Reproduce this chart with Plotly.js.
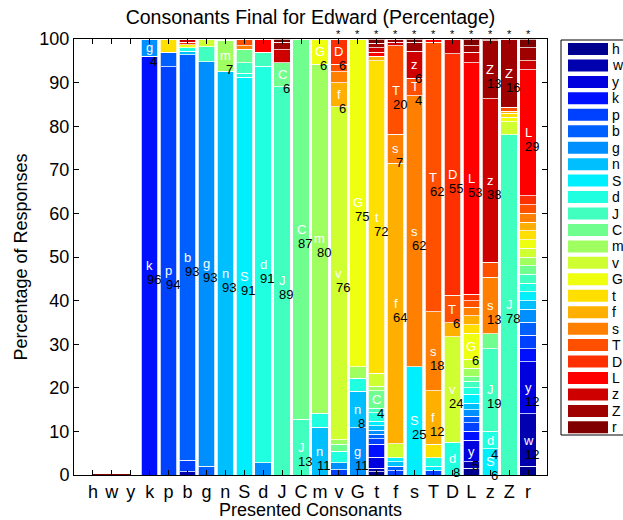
<!DOCTYPE html>
<html><head><meta charset="utf-8">
<script src="https://cdn.plot.ly/plotly-3.0.1.min.js"></script>
<style>html,body{margin:0;padding:0;background:#fff}</style>
</head><body><div id="chart" style="width:623px;height:520px"></div>
<script>
// Presented consonants (bars) and response categories (stack segments)
const presented = ['h','w','y','k','p','b','g','n','S','d','J','C','m','v','G','t','f','s','T','D','L','z','Z','r'];
const responses = ['h','w','y','k','p','b','g','n','S','d','J','C','m','v','G','t','f','s','T','D','L','z','Z','r'];
const respColors = ['#00008f','#0000af','#0000df','#0010ff','#0040ff','#0060ff','#008fff','#00bfff','#00efff',
  '#20ffdf','#40ffbf','#70ff8f','#9fff60','#cfff30','#efff10','#ffdf00','#ffaf00','#ff8000','#ff5000',
  '#ff3000','#ff0000','#cf0000','#9f0000','#800000'];
// Percent of responses for each presented consonant, in the order of `responses`
//              h   w   y   k   p    b    g    n    S    d    J    C    m    v    G    t    f    s    T    D    L   z    Z    r
const pct_h = [0,0,0,0,0,0,0,0,0,0,0,0,0,0,0,0,0,0,0,0,0,0,0,0];
const pct_w = [0,0,0,0,0,0,0,0,0,0,0,0,0,0,0,0,0,0,0,0,0,0,0,0];
const pct_y = [0,0,0,0,0,0,0,0,0,0,0,0,0,0,0,0,0,0,0,0,0,0,0,0];
const pct_k = [0,0,0,96,0,0,4,0,0,0,0,0,0,0,0,0,0,0,0,0,0,0,0,0];
const pct_p = [0,0,0,0,93.6,3.4,0,0,0,0,0,0,0,0,0,3,0,0,0,0,0,0,0,0];
const pct_b = [0,0.8,0,0,2.6,93,0,0.8,0,0.8,0,0,0,0,0.7,0,0,0,0,0.6,0,0.7,0,0];
const pct_g = [0,0,0,0,0,2,92.8,0,0,0,3.4,0,0,1.8,0,0,0,0,0,0,0,0,0,0];
const pct_n = [0,0,0,0,0,0,0,92.6,0,0,0,0,7.1,0,0,0,0,0,0,0,0,0.3,0,0];
const pct_S = [0,0,0,0,0,0,0,0,91.2,1,2.3,3.2,0,0,0,0,0,0.8,1.5,0,0,0,0,0];
const pct_d = [0,0,0,0,0,0,2.8,0,0,91,3.2,0,0,0,0,0,0,0,0,0,3,0,0,0];
const pct_J = [0,0,0,0,0,0,0,0,0,0,89,5.6,0,0,0,0,0,0,0,0,0,2.9,1.8,0.7];
const pct_C = [0,0,0,0,0,0,0,0,0,0,12.8,87.2,0,0,0,0,0,0,0,0,0,0,0,0];
const pct_m = [0,0,0,0,0,0,0,11,0,3.2,0,0,80,0,5.8,0,0,0,0,0,0,0,0,0];
const pct_v = [0,0,0,0,1.2,0,1.6,0,0,2.7,0,1.5,1.1,76.4,0,0,5.5,2.5,1.7,5.8,0,0,0,0];
const pct_G = [0,0,0,0,0,0,10.8,8.4,0,3,0,0,2.6,0,75.2,0,0,0,0,0,0,0,0,0];
const pct_t = [0.8,0.8,2.5,3,1.2,1,1,1,1,2,1,4,1,3,0,71.7,1,0,0,0,1,1,1,1];
const pct_f = [0,0,0,0,1,1,0,1,1,0,0,0,0,3.2,0,0,64.3,6.6,20.3,0,0,0.8,0.8,0];
const pct_s = [0,0,0,0,0,0,0,0,24.8,0,0,0,0,0,0,0,0,62.2,4,0,0,6.2,2,0.8];
const pct_T = [0,0,0,0,1,0,0,0,1,2,0,0,0,0,0,3,12.3,18.1,61.8,0,0.8,0,0,0];
const pct_D = [0,0,0,0,0,0,0,0,0,7.5,0,0,0,24.2,0,0,3.2,0,6.3,55.4,0,3.4,0,0];
const pct_L = [1.5,1.5,5,2,2,1.5,1.5,1.5,2,1.5,1.5,1,2,2,6,2,2,2,1.5,1.5,53,2.5,1.5,1.5];
const pct_z = [0,0,0,0,0,0,0,0,6,4,19,3.4,0,0,0,0,0,13,3.4,0,0,37.5,13.3,0.4];
const pct_Z = [0,0,0,0,0,0,0,0,0,0,78,0,0,3,1,1,0.4,0,1,0,0,0,15.6,0];
const pct_r = [2,12,12,3,3,3,3,2,2,2,2,2,2,2,2,2,2,2,2,2,29,2,3,2];
// Bars marked with an asterisk above
const starred = ['v','G','t','f','s','T','D','L','z','Z','r'];

const table = {h:pct_h,w:pct_w,y:pct_y,k:pct_k,p:pct_p,b:pct_b,g:pct_g,n:pct_n,S:pct_S,d:pct_d,J:pct_J,C:pct_C,
  m:pct_m,v:pct_v,G:pct_G,t:pct_t,f:pct_f,s:pct_s,T:pct_T,D:pct_D,L:pct_L,z:pct_z,Z:pct_Z,r:pct_r};

const FONT = 'Liberation Sans, Arial, Helvetica, sans-serif';
const traces = responses.map((resp, j) => ({
  type: 'bar', name: resp, x: presented, y: presented.map(p => table[p][j]),
  marker: {color: respColors[j], line: {color: 'rgba(255,255,255,0.75)', width: 1}},
  showlegend: false, hoverinfo: 'name+y'
}));
// empty bars drawn as a baseline stroke
const emptyBars = presented.filter(p => table[p].reduce((a, b) => a + b, 0) === 0);
traces.push({type: 'scatter', mode: 'lines', x: emptyBars, y: emptyBars.map(() => 0),
  line: {color: respColors[23], width: 2}, showlegend: false, hoverinfo: 'skip', cliponaxis: false});

const annotations = [];
presented.forEach(p => {
  let cum = 0;
  table[p].forEach((v, j) => {
    if (v >= 3.5) {
      const mid = cum + v / 2;
      annotations.push({x: p, y: mid, xref: 'x', yref: 'y', text: responses[j], showarrow: false,
        font: {family: FONT, size: 13, color: 'white'}});
      annotations.push({x: p, y: mid, xref: 'x', yref: 'y', text: String(Math.round(v)), showarrow: false,
        xshift: 4, yshift: -14, font: {family: FONT, size: 13, color: 'black'}});
    }
    cum += v;
  });
});
starred.forEach(p => annotations.push({x: p, y: 100, xref: 'x', yref: 'y', text: '*', showarrow: false,
  yanchor: 'bottom', yshift: -3, font: {family: FONT, size: 11, color: 'black'}}));

// custom legend (box, swatches, labels) at right of the axes
const plotL = 74, plotR = 547, plotT = 39, plotB = 475;
const px2x = px => (px - plotL) / (plotR - plotL);
const px2y = py => (plotB - py) / (plotB - plotT);
const shapes = [{type: 'rect', xref: 'paper', yref: 'paper', x0: px2x(561), x1: px2x(640), y0: px2y(435), y1: px2y(40),
  line: {color: 'black', width: 1}, fillcolor: 'white', layer: 'below'}];
responses.forEach((resp, j) => {
  const top = 43 + j * 16.45;
  shapes.push({type: 'rect', xref: 'paper', yref: 'paper', x0: px2x(568), x1: px2x(608), y0: px2y(top + 12), y1: px2y(top),
    line: {width: 0}, fillcolor: respColors[j]});
  annotations.push({xref: 'paper', yref: 'paper', x: px2x(610), y: px2y(top + 6), xanchor: 'left', yanchor: 'middle',
    text: resp, showarrow: false, font: {family: FONT, size: 14, color: 'black'}});
});

const axisCommon = {showline: true, linecolor: 'black', linewidth: 1, mirror: 'ticks', ticks: 'inside',
  ticklen: 5, tickcolor: 'black', showgrid: false, zeroline: false,
  tickfont: {family: FONT, size: 18, color: 'black'}};

const layout = {
  width: 623, height: 520, margin: {l: 74, r: 76, t: 39, b: 45},
  paper_bgcolor: 'white', plot_bgcolor: 'white', barmode: 'stack', bargap: 0.13,
  font: {family: FONT, color: 'black'},
  title: {text: 'Consonants Final for Edward (Percentage)', font: {family: FONT, size: 19.5, color: 'black'},
    x: 0.5, xref: 'paper', y: 1 - 17 / 520, yref: 'container', yanchor: 'middle'},
  xaxis: Object.assign({}, axisCommon, {type: 'category', categoryorder: 'array', categoryarray: presented,
    tickmode: 'array', tickvals: presented, ticktext: presented, tickangle: 0,
    range: [-1, 24], title: {text: 'Presented Consonants', font: {family: FONT, size: 18}, standoff: 8}}),
  yaxis: Object.assign({}, axisCommon, {range: [0, 100], dtick: 10,
    title: {text: 'Percentage of Responses', font: {family: FONT, size: 18}, standoff: 7}}),
  annotations: annotations, shapes: shapes
};
Plotly.newPlot('chart', traces, layout, {displayModeBar: false, staticPlot: true});
</script>
</body></html>
